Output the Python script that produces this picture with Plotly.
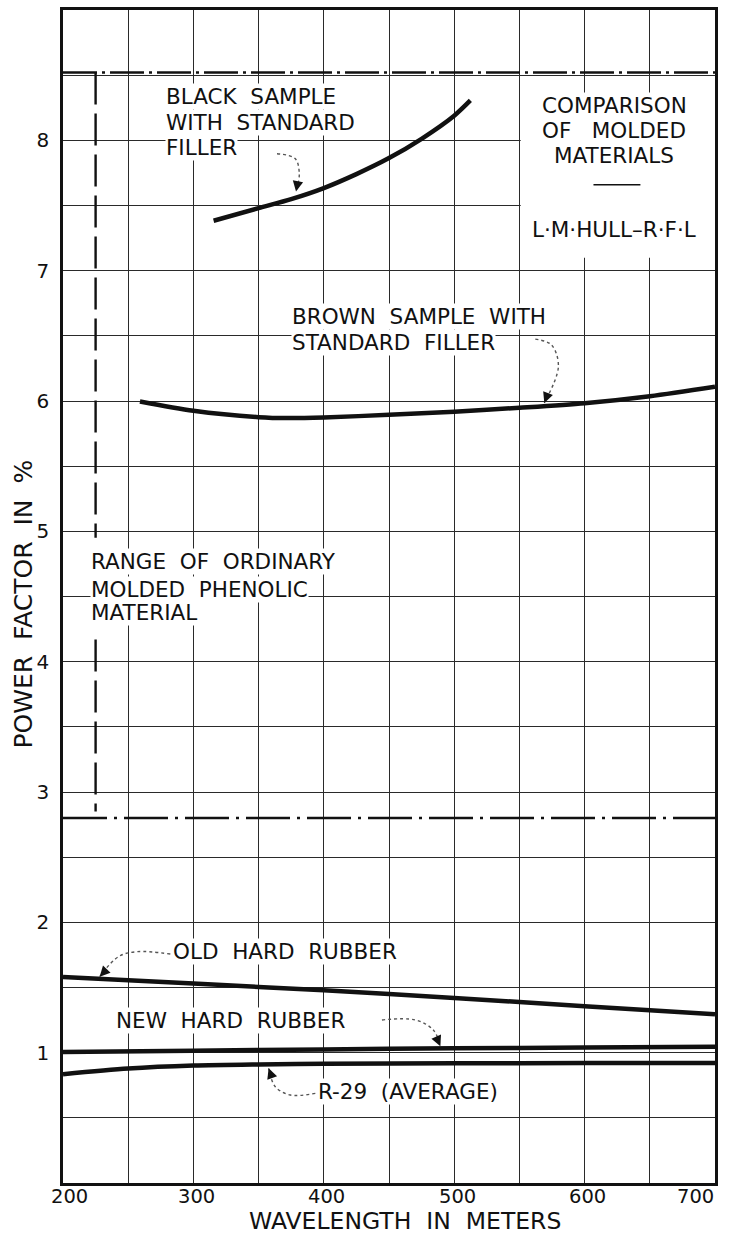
import plotly.graph_objects as go

FONT = "DejaVu Sans"
INK = "#111111"
GRID = "#2a2a2a"

# ---------------- data ----------------
black_x = [315.5, 350, 375, 400, 425, 450, 475, 500, 512.4]
black_y = [7.383, 7.48, 7.549, 7.634, 7.741, 7.864, 8.012, 8.189, 8.306]

brown_x = [259, 300, 350, 373, 400, 450, 500, 550, 600, 650, 700]
brown_y = [5.996, 5.925, 5.876, 5.869, 5.874, 5.894, 5.918, 5.948, 5.983, 6.037, 6.11]

old_x = [200, 300, 400, 500, 600, 700]
old_y = [1.58, 1.53, 1.478, 1.42, 1.357, 1.295]

new_x = [200, 300, 400, 500, 600, 700]
new_y = [1.005, 1.015, 1.025, 1.033, 1.04, 1.045]

r29_x = [200, 250, 300, 350, 400, 500, 600, 700]
r29_y = [0.835, 0.878, 0.901, 0.910, 0.915, 0.918, 0.92, 0.92]

# range of ordinary molded phenolic material
phenolic_low = 2.80
phenolic_high = 8.52
phenolic_x = 225
phenolic_gap = [4.17, 4.95]   # where the dashed marker is interrupted by its label

x_ticks = [200, 300, 400, 500, 600, 700]
x_ticktext = ["200", "300", "400", "500", "600", "700"]
y_ticks = [1, 2, 3, 4, 5, 6, 7, 8, 9]
y_ticktext = ["1", "2", "3", "4", "5", "6", "7", "8", "9"]

x_range = [200, 700]
y_range = [0, 9]

# label pointers (dotted leader paths, last point = arrow tip)
pointers = {
    "black": ([364.1, 378.0, 381.2, 378.7], [7.897, 7.860, 7.741, 7.608]),
    "brown": ([562.2, 574.5, 579.9, 569.1], [6.475, 6.431, 6.265, 5.985]),
    "old":   ([282.3, 256.8, 242.6, 228.1], [1.757, 1.775, 1.737, 1.583]),
    "new":   ([444.6, 470.2, 484.0, 489.4], [1.251, 1.251, 1.174, 1.050]),
    "r29":   ([393.5, 374.3, 362.8, 357.7], [0.688, 0.675, 0.739, 0.880]),
}

# ---------------- figure ----------------
fig = go.Figure()

curve = dict(color=INK, width=4.5, shape="spline", smoothing=0.8)
for xs, ys, name in [
    (black_x, black_y, "Black sample with standard filler"),
    (brown_x, brown_y, "Brown sample with standard filler"),
    (old_x, old_y, "Old hard rubber"),
    (new_x, new_y, "New hard rubber"),
    (r29_x, r29_y, "R-29 (average)"),
]:
    fig.add_trace(go.Scatter(x=xs, y=ys, mode="lines", name=name,
                             line=curve, hoverinfo="x+y+name"))

# phenolic range boundaries
fig.add_trace(go.Scatter(x=x_range, y=[phenolic_high, phenolic_high], mode="lines",
                         line=dict(color=INK, width=2.6, dash="34px,5px,3px,5px"),
                         hoverinfo="skip", showlegend=False))
fig.add_trace(go.Scatter(x=x_range, y=[phenolic_low, phenolic_low], mode="lines",
                         line=dict(color=INK, width=2.6, dash="44px,7px,3px,7px"),
                         hoverinfo="skip", showlegend=False))
fig.add_trace(go.Scatter(x=[phenolic_x, phenolic_x, None, phenolic_x, phenolic_x],
                         y=[phenolic_high, phenolic_gap[1], None, phenolic_gap[0], phenolic_low + 0.05],
                         mode="lines",
                         line=dict(color=INK, width=2.4, dash="32px,9px"),
                         hoverinfo="skip", showlegend=False))

# dotted leaders
for key, (px, py) in pointers.items():
    fig.add_trace(go.Scatter(x=px, y=py, mode="lines",
                             line=dict(color="#555555", width=1.4, dash="dot",
                                       shape="spline", smoothing=1.0),
                             hoverinfo="skip", showlegend=False))

annotations = []

# arrowheads
for key, (px, py) in pointers.items():
    tx, ty = px[-1], py[-1]
    sx = tx + 0.3 * (px[-2] - tx)
    sy = ty + 0.3 * (py[-2] - ty)
    annotations.append(dict(x=tx, y=ty, ax=sx, ay=sy, axref="x", ayref="y",
                            xref="x", yref="y", text="", showarrow=True,
                            arrowhead=2, arrowsize=1.3, arrowwidth=1.6,
                            arrowcolor=INK, standoff=0))

def label(x, y, text, anchor="left", size=21.5):
    annotations.append(dict(x=x, y=y, xref="x", yref="y", text=text,
                            showarrow=False, xanchor=anchor, yanchor="middle",
                            font=dict(family=FONT, size=size, color=INK),
                            bgcolor="white", borderpad=0))

label(278.5, 8.335, "BLACK  SAMPLE")
label(278.5, 8.135, "WITH  STANDARD")
label(278.5, 7.943, "FILLER")

label(375.0, 6.649, "BROWN  SAMPLE  WITH")
label(375.0, 6.450, "STANDARD  FILLER")

label(220.5, 4.768, "RANGE  OF  ORDINARY")
label(220.5, 4.555, "MOLDED  PHENOLIC")
label(220.5, 4.378, "MATERIAL")

label(283.7, 1.780, "OLD  HARD  RUBBER")
label(240.0, 1.247, "NEW  HARD  RUBBER")
label(394.5, 0.700, "R-29  (AVERAGE)")

# title block
label(622.8, 8.265, "COMPARISON", anchor="center")
label(622.8, 8.074, "OF   MOLDED", anchor="center")
label(622.8, 7.882, "MATERIALS", anchor="center")
label(622.8, 7.314, "L·M·HULL–R·F·L", anchor="center")

# x tick labels
for v, t in zip(x_ticks, x_ticktext):
    if v == x_ticks[0]:
        xa, xs = "left", -14
    elif v == x_ticks[-1]:
        xa, xs = "right", 1
    else:
        xa, xs = "center", 3
    annotations.append(dict(x=v, y=0, xref="x", yref="paper", text=t,
                            showarrow=False, xanchor=xa, yanchor="middle",
                            xshift=xs, yshift=-13,
                            font=dict(family=FONT, size=19.5, color=INK)))

# axis titles
annotations.append(dict(x=0.5248, y=0, xref="paper", yref="paper",
                        text="WAVELENGTH  IN  METERS", showarrow=False,
                        xanchor="center", yanchor="middle", yshift=-37.5,
                        font=dict(family=FONT, size=23.5, color=INK)))
annotations.append(dict(x=0, y=0.4936, xref="paper", yref="paper",
                        text="POWER  FACTOR  IN  %", showarrow=False, textangle=-90,
                        xanchor="center", yanchor="middle", xshift=-39.5,
                        font=dict(family=FONT, size=25, color=INK)))

shapes = [
    # white panel behind the title block
    dict(type="rect", xref="x", yref="y", x0=551, x1=700, y0=7.10, y1=8.35,
         fillcolor="white", line=dict(width=0), layer="between"),
    # short rule in title block
    dict(type="line", xref="x", yref="y", x0=606.8, x1=642.8, y0=7.659, y1=7.659,
         line=dict(color=INK, width=1.6), layer="above"),
]

fig.update_layout(
    width=729, height=1234,
    margin=dict(l=63, r=14, t=10, b=51, autoexpand=False),
    paper_bgcolor="white", plot_bgcolor="white",
    showlegend=False,
    font=dict(family=FONT, color=INK),
    annotations=annotations,
    shapes=shapes,
    xaxis=dict(range=x_range, tickmode="linear", tick0=200, dtick=50,
               showticklabels=False, ticks="", automargin=False,
               showgrid=True, gridcolor=GRID, gridwidth=1,
               zeroline=False, showline=True, mirror=True,
               linecolor=INK, linewidth=2.5),
    yaxis=dict(range=y_range, tickmode="array", tickvals=y_ticks, ticktext=y_ticktext,
               ticks="", ticklabelstandoff=7, automargin=False,
               tickfont=dict(family=FONT, size=20, color=INK),
               showgrid=True, gridcolor=GRID, gridwidth=1,
               minor=dict(dtick=0.5, tick0=0, showgrid=True, gridcolor=GRID, gridwidth=1),
               zeroline=False, showline=True, mirror=True,
               linecolor=INK, linewidth=2.5),
)

fig.write_html("out.html",
               config={"displayModeBar": False},
               post_script="document.body.style.margin='0';document.body.style.overflow='hidden';")
